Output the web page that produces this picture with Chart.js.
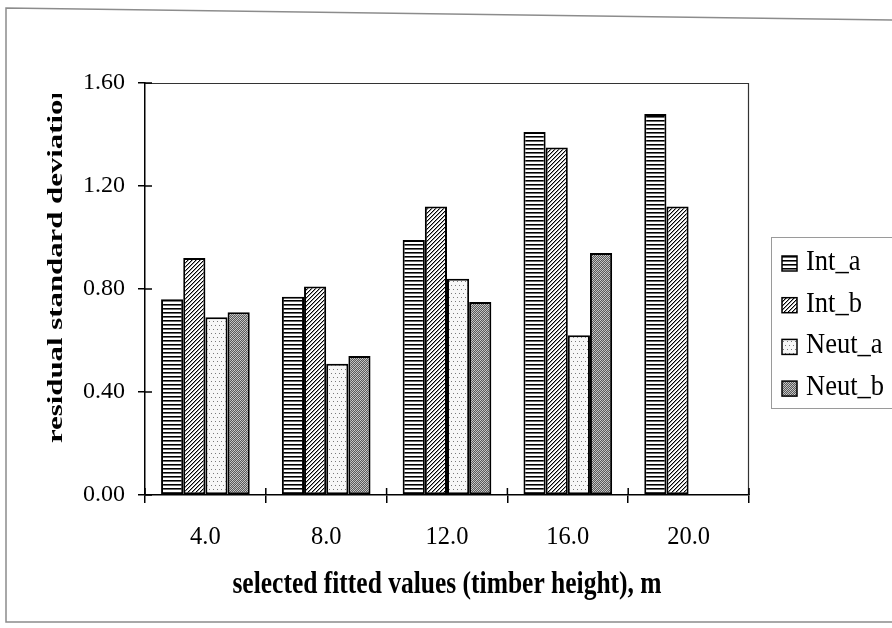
<!DOCTYPE html>
<html>
<head>
<meta charset="utf-8">
<script src="https://cdn.jsdelivr.net/npm/chart.js@4/dist/chart.umd.min.js"></script>
<style>
  html, body { margin: 0; padding: 0; background: #fff; }
  #wrap { width: 892px; height: 628px; }
</style>
</head>
<body>
<div id="wrap"><canvas id="c" width="892" height="628"></canvas></div>
<script>
// Residual standard deviation by fitted timber height
const categories = ['4.0', '8.0', '12.0', '16.0', '20.0'];
const seriesNames = ['Int_a', 'Int_b', 'Neut_a', 'Neut_b'];
const intA  = [0.76, 0.77, 0.99, 1.41, 1.48];
const intB  = [0.92, 0.81, 1.12, 1.35, 1.12];
const neutA = [0.69, 0.51, 0.84, 0.62, null];
const neutB = [0.71, 0.54, 0.75, 0.94, null];
const yTicks = [0, 0.4, 0.8, 1.2, 1.6];
const xTitle = 'selected fitted values (timber height), m';
const yTitle = 'residual standard deviation';

const FONT = '"Liberation Serif", "Times New Roman", serif';
Chart.defaults.font.family = FONT;
Chart.defaults.color = '#000';

// small repeating fills for the bars
function tile(w, h, paint) {
  const c = document.createElement('canvas');
  c.width = w; c.height = h;
  const g = c.getContext('2d');
  paint(g);
  return g.createPattern(c, 'repeat');
}
function dot(g, x, y, col) { g.fillStyle = col; g.fillRect(x, y, 1, 1); }

const fills = [
  // horizontal stripes
  tile(4, 4, g => {
    g.fillStyle = '#fff'; g.fillRect(0, 0, 4, 4);
    g.fillStyle = '#000'; g.fillRect(0, 0, 4, 1);
    g.fillStyle = '#6a6a6a'; g.fillRect(0, 1, 4, 1);
  }),
  // forward diagonal hatch
  tile(4, 4, g => {
    g.fillStyle = '#fff'; g.fillRect(0, 0, 4, 4);
    for (let i = 0; i < 4; i++) {
      dot(g, 3 - i, i, '#000');
      dot(g, (4 - i) % 4, i, '#9a9a9a');
    }
  }),
  // sparse dots
  tile(4, 8, g => {
    g.fillStyle = '#f7f7f7'; g.fillRect(0, 0, 4, 8);
    dot(g, 1, 1, '#7a7a7a');
    dot(g, 3, 5, '#7a7a7a');
  }),
  // dense checker
  tile(4, 4, g => {
    g.fillStyle = '#5a5a5a'; g.fillRect(0, 0, 4, 4);
    dot(g, 0, 0, '#d0d0d0'); dot(g, 2, 0, '#b0b0b0');
    dot(g, 1, 1, '#c0c0c0'); dot(g, 3, 1, '#c8c8c8');
    dot(g, 0, 2, '#b8b8b8'); dot(g, 2, 2, '#d0d0d0');
    dot(g, 1, 3, '#c8c8c8'); dot(g, 3, 3, '#b8b8b8');
  })
];

const seriesValues = [intA, intB, neutA, neutB];

// frame, tick crossings, titles and legend box
const decor = {
  id: 'decor',
  afterDraw(chart) {
    const { ctx, chartArea: a, scales: { x, y } } = chart;
    ctx.save();

    // outer border of the chart
    ctx.strokeStyle = '#8c8c8c';
    ctx.lineWidth = 1.5;
    ctx.beginPath();
    ctx.moveTo(892, 20); ctx.lineTo(6, 8); ctx.lineTo(6, 622); ctx.lineTo(892, 622);
    ctx.stroke();

    // plot area top and right edges
    ctx.strokeStyle = '#333';
    ctx.lineWidth = 1.2;
    ctx.beginPath();
    ctx.moveTo(a.left, a.top + 0.5);
    ctx.lineTo(a.right - 0.5, a.top + 0.5);
    ctx.lineTo(a.right - 0.5, a.bottom);
    ctx.stroke();

    // tick marks cross the axes: draw the inner halves
    ctx.strokeStyle = '#000';
    ctx.lineWidth = 1.5;
    ctx.beginPath();
    y.ticks.forEach((t, i) => {
      const py = y.getPixelForTick(i);
      ctx.moveTo(a.left, py); ctx.lineTo(a.left + 7, py);
    });
    const half = (x.getPixelForValue(1) - x.getPixelForValue(0)) / 2;
    for (let i = 0; i <= categories.length; i++) {
      const px = x.getPixelForValue(i) - half;
      ctx.moveTo(px, a.bottom); ctx.lineTo(px, a.bottom - 7);
    }
    ctx.stroke();

    ctx.fillStyle = '#000';

    // y axis title (runs past the top and is cut there)
    ctx.save();
    ctx.beginPath();
    ctx.rect(0, 94, 140, 540);
    ctx.clip();
    ctx.translate(62, 443);
    ctx.rotate(-Math.PI / 2);
    ctx.scale(1.4, 1);
    ctx.font = 'bold 22px ' + FONT;
    ctx.textAlign = 'left';
    ctx.textBaseline = 'alphabetic';
    ctx.fillText(yTitle, 0, 0);
    ctx.restore();

    // x axis title
    ctx.save();
    ctx.translate((a.left + a.right) / 2, 593);
    ctx.scale(1, 1.2);
    ctx.font = 'bold 25.5px ' + FONT;
    ctx.textAlign = 'center';
    ctx.textBaseline = 'alphabetic';
    ctx.fillText(xTitle, 0, 0);
    ctx.restore();

    // legend
    ctx.strokeStyle = '#9a9a9a';
    ctx.lineWidth = 1;
    ctx.strokeRect(771.5, 237.5, 140, 171);
    chart.data.datasets.forEach((ds, i) => {
      const top = 256 + i * 41.7;
      ctx.fillStyle = ds.backgroundColor;
      ctx.fillRect(782, top, 15, 15);
      ctx.strokeStyle = '#000';
      ctx.lineWidth = 1.5;
      ctx.strokeRect(782, top, 15, 15);
      ctx.fillStyle = '#000';
      ctx.save();
      ctx.translate(806, top + 14);
      ctx.scale(1, 1.08);
      ctx.font = '26.5px ' + FONT;
      ctx.textAlign = 'left';
      ctx.textBaseline = 'alphabetic';
      ctx.fillText(ds.label, 0, 0);
      ctx.restore();
    });

    ctx.restore();
  }
};

new Chart(document.getElementById('c'), {
  type: 'bar',
  data: {
    labels: categories,
    datasets: seriesNames.map((name, i) => ({
      label: name,
      data: seriesValues[i],
      backgroundColor: fills[i],
      borderColor: '#000',
      borderWidth: 2,
      borderSkipped: false
    }))
  },
  options: {
    responsive: false,
    animation: false,
    devicePixelRatio: 1,
    layout: { padding: { left: 0, right: 143, top: 83, bottom: 0 } },
    datasets: { bar: { categoryPercentage: 0.734, barPercentage: 1 } },
    plugins: {
      legend: { display: false },
      tooltip: { enabled: false }
    },
    scales: {
      x: {
        grid: { display: true, drawOnChartArea: false, tickLength: 8, color: '#000', lineWidth: 1.5, offset: true },
        border: { display: true, color: '#000', width: 1.5 },
        ticks: { font: { family: FONT, size: 24.5 }, padding: 20, color: '#000', maxRotation: 0 },
        afterFit(s) { s.height = 133; }
      },
      y: {
        min: 0,
        max: 1.6,
        grid: { display: true, drawOnChartArea: false, tickLength: 7, color: '#000', lineWidth: 1.5 },
        border: { display: true, color: '#000', width: 1.5 },
        ticks: {
          font: { family: FONT, size: 24 },
          padding: 13,
          color: '#000',
          callback: v => Number(v).toFixed(2)
        },
        afterBuildTicks(s) { s.ticks = yTicks.map(v => ({ value: v })); },
        afterFit(s) { s.width = 145; }
      }
    }
  },
  plugins: [decor]
});
</script>
</body>
</html>
